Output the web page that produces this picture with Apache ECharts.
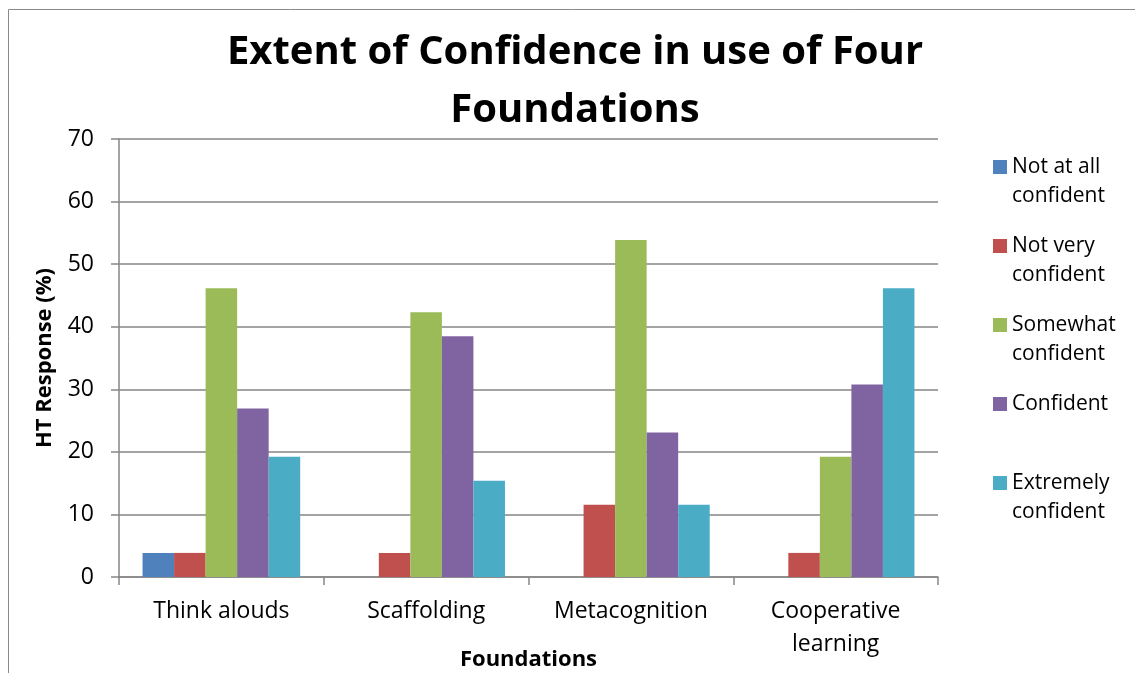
<!DOCTYPE html>
<html>
<head>
<meta charset="utf-8">
<script src="https://cdn.jsdelivr.net/npm/echarts@6/dist/echarts.min.js"></script>
<style>
  html, body { margin: 0; padding: 0; background: #fff; }
  #chart { width: 1135px; height: 673px; }
</style>
</head>
<body>
<div id="chart"></div>
<script>
// categories on the x axis
const foundations = ['Think alouds', 'Scaffolding', 'Metacognition', 'Cooperative learning']

// response levels (series) and their legend labels (blank first line keeps the icon beside line one)
const levels = ['Not at all confident', 'Not very confident', 'Somewhat confident', 'Confident', 'Extremely confident']
const legendLabels = [' \nNot at all\nconfident', ' \nNot very\nconfident', ' \nSomewhat\nconfident', ' \nConfident\n ', ' \nExtremely\nconfident']
const colors = ['#4F81BD', '#C0504D', '#9BBB59', '#8064A2', '#4BACC6']

// HT response (%) per level, one value per foundation
const notAtAll = [3.85, 0, 0, 0]
const notVery = [3.85, 3.85, 11.54, 3.85]
const somewhat = [46.15, 42.31, 53.85, 19.23]
const confident = [26.92, 38.46, 23.08, 30.77]
const extremely = [19.23, 15.38, 11.54, 46.15]

const yTicks = { min: 0, max: 70, interval: 10 }

const seriesValues = [notAtAll, notVery, somewhat, confident, extremely]
const font = '"Open Sans", "Liberation Sans", sans-serif'

const chart = echarts.init(document.getElementById('chart'))

const option = {
  animation: false,
  textStyle: { fontFamily: font },
  title: {
    text: 'Extent of Confidence in use of Four\nFoundations',
    left: 575,
    textAlign: 'center',
    top: 24,
    padding: 0,
    textStyle: {
      fontFamily: font,
      fontSize: 40,
      fontWeight: 'bold',
      color: '#000',
      lineHeight: 58,
    },
  },
  graphic: [
    {
      type: 'rect',
      shape: { x: 8.5, y: 9.5, width: 1140, height: 700 },
      style: { fill: 'none', stroke: '#8a8a8a', lineWidth: 1 },
      silent: true,
    },
  ],
  legend: {
    orient: 'vertical',
    left: 993,
    top: 123.5,
    padding: 0,
    itemWidth: 14,
    itemHeight: 14,
    itemGap: -8,
    icon: 'rect',
    data: levels,
    formatter: (name) => legendLabels[levels.indexOf(name)],
    textStyle: {
      fontFamily: font,
      fontSize: 21,
      color: '#000',
      lineHeight: 29,
    },
  },
  grid: {
    left: 119,
    right: 197,
    top: 139,
    bottom: 96,
    outerBoundsMode: 'none',
    containLabel: false,
  },
  xAxis: {
    type: 'category',
    data: foundations,
    name: 'Foundations',
    nameLocation: 'middle',
    nameGap: 72,
    nameMoveOverlap: false,
    nameTextStyle: { fontFamily: font, fontSize: 22, fontWeight: 'bold', color: '#000' },
    axisLine: { lineStyle: { color: '#868686', width: 1.5 } },
    axisTick: { show: true, length: 8, lineStyle: { color: '#868686', width: 1.5 } },
    axisLabel: {
      fontFamily: font,
      fontSize: 23,
      color: '#000',
      margin: 18,
      lineHeight: 33,
      formatter: (v) => v.replace(' learning', '\nlearning'),
    },
  },
  yAxis: {
    type: 'value',
    min: yTicks.min,
    max: yTicks.max,
    interval: yTicks.interval,
    name: 'HT Response (%)',
    nameLocation: 'middle',
    nameGap: 63,
    nameMoveOverlap: false,
    nameTextStyle: { fontFamily: font, fontSize: 22, fontWeight: 'bold', color: '#000' },
    axisLine: { show: true, lineStyle: { color: '#868686', width: 1.5 } },
    axisTick: { show: true, length: 8, lineStyle: { color: '#868686', width: 1.5 } },
    axisLabel: { fontFamily: font, fontSize: 23, color: '#000', margin: 25 },
    splitLine: { lineStyle: { color: '#868686', width: 1.5 } },
  },
  series: levels.map((name, i) => ({
    name,
    type: 'bar',
    data: seriesValues[i],
    barGap: 0,
    barCategoryGap: '23%',
    itemStyle: { color: colors[i] },
  })),
}

chart.setOption(option)
</script>
</body>
</html>
